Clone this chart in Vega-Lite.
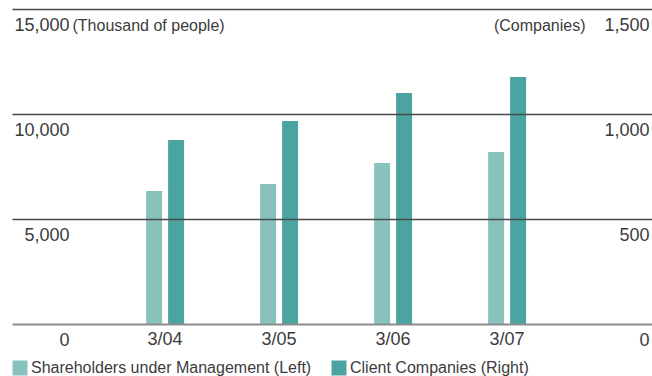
{
  "$schema": "https://vega.github.io/schema/vega-lite/v6.json",
  "width": 640,
  "height": 315,
  "autosize": {"type": "none"},
  "padding": {"left": 12, "top": 9, "right": 0, "bottom": 52},
  "background": "white",
  "config": {
    "view": {"stroke": null},
    "font": "Liberation Sans",
    "axis": {"labelFont": "Liberation Sans", "titleFont": "Liberation Sans", "labelColor": "#3c3c3c", "titleColor": "#3c3c3c", "labelFontSize": 18, "titleFontSize": 16, "titleFontWeight": "normal"},
    "legend": {"labelFont": "Liberation Sans", "labelFontSize": 16, "labelColor": "#3c3c3c", "labelLimit": 400}
  },
  "data": {
    "values": [
      {"period": "3/04", "shareholders": 6333, "companies": 876},
      {"period": "3/05", "shareholders": 6667, "companies": 967},
      {"period": "3/06", "shareholders": 7667, "companies": 1100},
      {"period": "3/07", "shareholders": 8190, "companies": 1176}
    ]
  },
  "encoding": {
    "x": {
      "field": "period",
      "type": "nominal",
      "sort": null,
      "scale": {"paddingInner": 0.386, "paddingOuter": 1, "align": 0.518},
      "axis": {"title": null, "labelAngle": 0, "domain": false, "ticks": false, "labelPadding": 6, "grid": false}
    }
  },
  "layer": [
    {
      "mark": {"type": "bar"},
      "encoding": {
        "xOffset": {"datum": "Shareholders under Management (Left)", "scale": {"domain": ["Shareholders under Management (Left)", "Client Companies (Right)"], "paddingInner": 0.273, "paddingOuter": 0.727}},
        "y": {
          "field": "shareholders",
          "type": "quantitative",
          "scale": {"domain": [0, 15000], "nice": false},
          "axis": {
            "orient": "left",
            "values": [0, 5000, 10000, 15000],
            "format": ",.0f",
            "domain": false,
            "ticks": false,
            "labelAlign": "right",
            "labelBaseline": "top",
            "labelPadding": -57,
            "labelOffset": 7.5,
            "grid": true,
            "gridColor": {"condition": {"test": "datum.value === 0", "value": "#8c8c8c"}, "value": "#4a4a4a"},
            "gridWidth": {"condition": {"test": "datum.value === 0", "value": 2.2}, "value": 1.5},
            "zindex": 1,
            "title": "(Thousand of people)",
            "titleAngle": 0,
            "titleAlign": "left",
            "titleBaseline": "top",
            "titleX": 60,
            "titleY": 8.5
          }
        },
        "color": {"datum": "Shareholders under Management (Left)", "type": "nominal", "scale": {"domain": ["Shareholders under Management (Left)", "Client Companies (Right)"], "range": ["#89c2bc", "#4ba4a0"]},
          "legend": {"title": null, "orient": "none", "direction": "horizontal", "legendX": 0, "legendY": 351, "symbolType": "square", "symbolSize": 225, "symbolStrokeWidth": 0, "symbolOpacity": 1, "labelOffset": 3, "columnPadding": 19, "padding": 0, "labelBaseline": "middle"}
        }
      }
    },
    {
      "mark": {"type": "bar"},
      "encoding": {
        "xOffset": {"datum": "Client Companies (Right)"},
        "y": {
          "field": "companies",
          "type": "quantitative",
          "scale": {"domain": [0, 1500], "nice": false},
          "axis": {
            "orient": "right",
            "values": [0, 500, 1000, 1500],
            "format": ",.0f",
            "domain": false,
            "ticks": false,
            "grid": false,
            "labelAlign": "right",
            "labelBaseline": "top",
            "labelPadding": -3,
            "labelOffset": 7.5,
            "title": "(Companies)",
            "titleAngle": 0,
            "titleAlign": "right",
            "titleBaseline": "top",
            "titleX": -67,
            "titleY": 8.5
          }
        },
        "color": {"datum": "Client Companies (Right)", "type": "nominal"}
      }
    }
  ],
  "resolve": {"scale": {"y": "independent"}}
}
